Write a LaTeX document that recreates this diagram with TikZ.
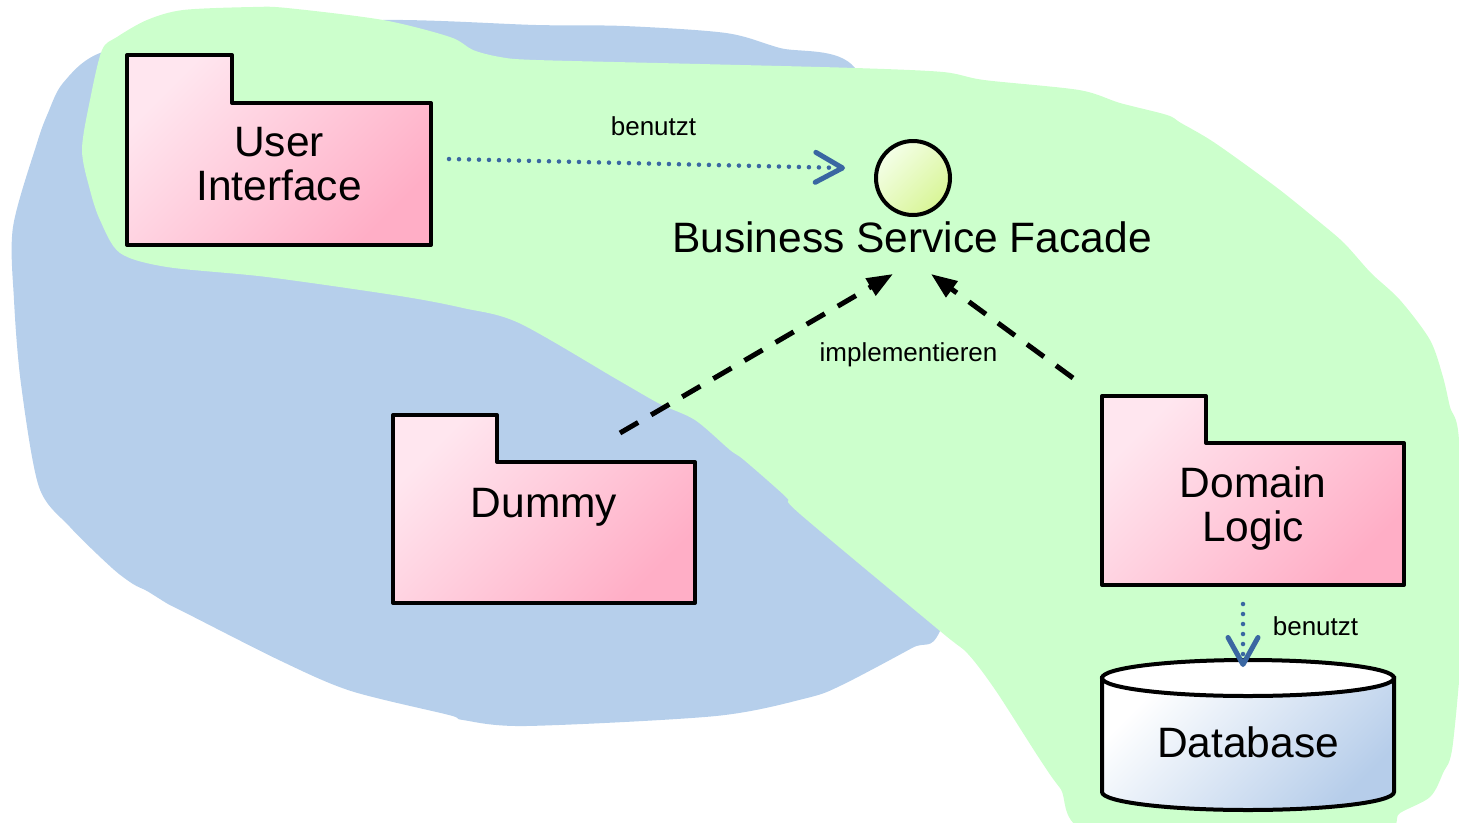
\documentclass[tikz,border=0pt]{standalone}
\usepackage{fontspec}
\setmainfont{Liberation Sans}
\usetikzlibrary{arrows.meta}

\definecolor{areagreen}{HTML}{CCFFCC}
\definecolor{areablue}{HTML}{B6CFEB}
\definecolor{pkglight}{HTML}{FFE6EF}
\definecolor{pkgdark}{HTML}{FFAEC6}
\definecolor{ifclight}{HTML}{F4FFE8}
\definecolor{ifcdark}{HTML}{D8F596}
\definecolor{dbdark}{HTML}{B6CDEA}
\definecolor{usesblue}{HTML}{3A67A2}

% UML package outline: left, top, tab right, body top, right, bottom
\newcommand{\umlpackage}[6]{%
  \path[pkgshape] (#1,#2) -- (#3,#2) -- (#3,#4) -- (#5,#4) -- (#5,#6) -- (#1,#6) -- cycle;}

\tikzset{
  pkgshape/.style={draw=black, line width=4pt, line join=round,
    top color=pkglight, bottom color=pkgdark, shading angle=45},
  bigtext/.style={font=\fontsize{42.5}{44}\selectfont, inner sep=0pt, align=center},
  smalltext/.style={font=\fontsize{26}{28}\selectfont, inner sep=0pt},
  uses/.style={usesblue, line width=4.5pt, line cap=round, dash pattern=on 0pt off 10pt,
    -{Straight Barb[length=27pt, width=30pt, line width=5pt, round]}},
  realizes/.style={black, line width=5pt, dash pattern=on 21pt off 15pt,
    -{Triangle[length=26pt, width=19pt]}},
}

\begin{document}
\begin{tikzpicture}[x=1pt, y=-1pt]
\useasboundingbox (0,0) rectangle (1459,822);
\clip (0,0) rectangle (1459,822);

% blue area
\fill[areablue] plot[smooth cycle, tension=0.5] coordinates {
  (383,20) (536,25) (624,26) (726,33) (780,48) (855,68)
  (900,200) (980,500) (940,631)
  (912,648) (842,685) (807,698) (716,716) (526,726) (463,720) (449,715)
  (351,691) (281,661) (182,611) (168,604) (147,591) (133,584) (112,568)
  (70,527) (39,487) (21,384) (14,300) (13,227) (37,143) (48,113) (63,83)
  (100,53) (200,30)};

% green area
\fill[areagreen] plot[smooth cycle, tension=0.5] coordinates {
  (102,50) (117,37) (147,20) (183,10) (253,7) (287,8) (383,20) (450,37)
  (473,50) (500,57) (536,60) (700,64) (855,68) (943,72) (984,80) (1079,90)
  (1120,103) (1167,115) (1181,123) (1215,143) (1276,187) (1317,220)
  (1344,243) (1371,273) (1400,300) (1430,340) (1443,377) (1450,407)
  (1459,440) (1464,600) (1453,743) (1443,773) (1430,797) (1400,813)
  (1367,835) (1100,835) (1060,788) (1039,758) (996,691) (968,654)
  (940,631) (800,514) (786,497) (744,460) (730,450) (695,420) (660,404)
  (618,380) (519,323) (463,308) (400,296) (267,277) (167,267) (120,253)
  (100,220) (90,190) (82,150) (90,100)};

% packages
\umlpackage{127}{55}{232}{103}{431}{245}
\node[bigtext] (ui) at (279,164.5) {User\\Interface};

\umlpackage{393}{415}{497}{462}{695}{603}
\node[bigtext, anchor=base] (dummy) at (544,517) {Dummy};

\umlpackage{1102}{396}{1206}{443}{1404}{585}
\node[bigtext] (domain) at (1253,508.5) {Domain\\Logic};

% interface
\node[circle, draw=black, line width=4pt, minimum size=74pt, inner sep=0pt,
  top color=ifclight, bottom color=ifcdark, shading angle=45] (bsf) at (913,178) {};
\node[bigtext, anchor=base] (bsflabel) at (912,252) {Business Service Facade};

% database
\path[draw=black, line width=4pt, top color=white, bottom color=dbdark, shading angle=45]
  (1102,678) -- (1102,792) arc[start angle=180, end angle=360, x radius=146pt, y radius=18pt]
  -- (1394,678) -- cycle;
\path[draw=black, line width=4pt, fill=white] (1248,678) ellipse[x radius=146pt, y radius=18pt];
\node[bigtext, anchor=base] (db) at (1248,757) {Database};

% connector ends
\coordinate (uiout) at (449,159);
\coordinate (bsfin) at (845,168);
\coordinate (dummyout) at (620,433);
\coordinate (bsfleft) at (893,274);
\coordinate (domainout) at (1073,378);
\coordinate (bsfright) at (931,274);
\coordinate (domaindown) at (1243,604);
\coordinate (dbin) at (1243,667);

% connectors
\draw[uses] (uiout) -- (bsfin);
\draw[realizes] (dummyout) -- (bsfleft);
\draw[realizes] (domainout) -- (bsfright);
\draw[uses] (domaindown) -- (dbin);

% labels
\node[smalltext, anchor=base] (uselabel1) at (653.5,135) {benutzt};
\node[smalltext, anchor=base] (impllabel) at (908.5,361) {implementieren};
\node[smalltext, anchor=base] (uselabel2) at (1315.5,635) {benutzt};
\end{tikzpicture}
\end{document}
